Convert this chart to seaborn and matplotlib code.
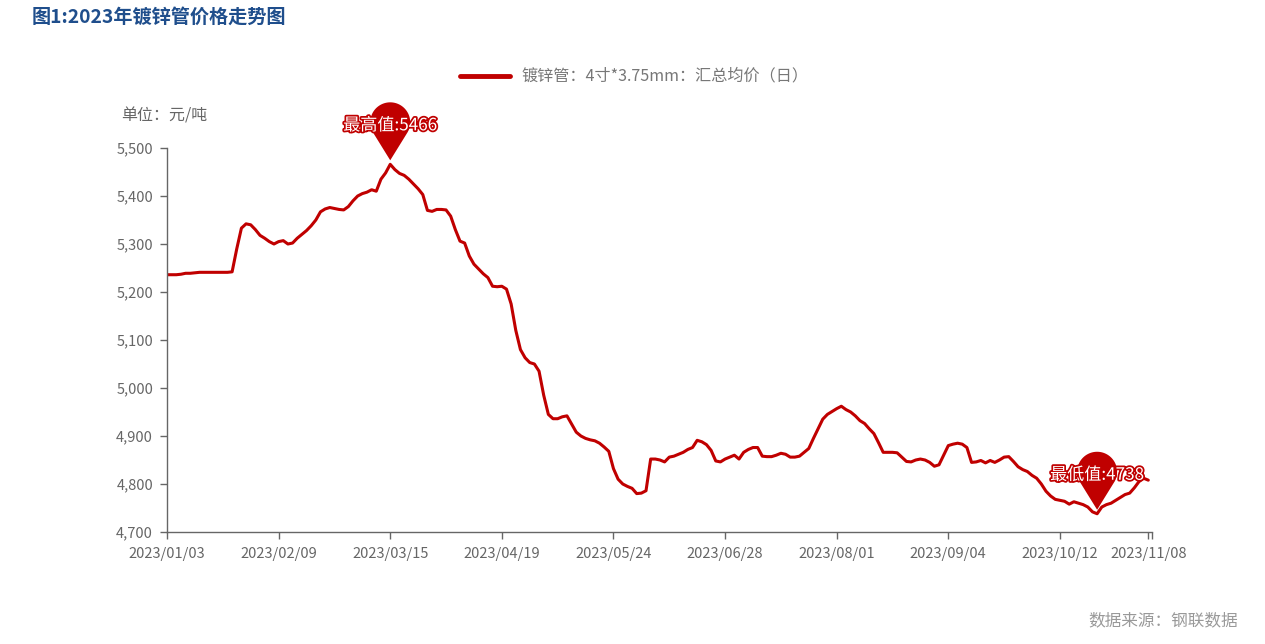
import numpy as np
import pandas as pd
import matplotlib
matplotlib.use("Agg")
import matplotlib.pyplot as plt
import seaborn as sns
from matplotlib.path import Path
from matplotlib.patches import PathPatch
import matplotlib.transforms as mtransforms
import matplotlib.patheffects as pe

# ---------------- data ----------------
holidays = ["2023-01-02", "2023-01-23", "2023-01-24", "2023-01-25", "2023-01-26",
            "2023-01-27", "2023-04-05", "2023-05-01", "2023-05-02", "2023-05-03",
            "2023-06-22", "2023-06-23", "2023-09-29", "2023-10-02", "2023-10-03",
            "2023-10-04", "2023-10-05", "2023-10-06"]
makeup_days = ["2023-01-28", "2023-01-29", "2023-04-23", "2023-05-06",
               "2023-06-25", "2023-10-07", "2023-10-08"]
dates = pd.bdate_range("2023-01-03", "2023-11-08", freq="C", holidays=holidays)
dates = dates.union(pd.to_datetime(makeup_days)).sort_values()
date_labels = [d.strftime("%Y/%m/%d") for d in dates]

prices = [
    5236, 5236, 5236, 5237, 5239, 5239, 5240, 5241, 5241, 5241,
    5241, 5241, 5241, 5241, 5242, 5290, 5333, 5342, 5340, 5330,
    5318, 5312, 5305, 5300, 5305, 5307, 5300, 5302, 5312, 5320,
    5328, 5338, 5350, 5367, 5373, 5376, 5374, 5372, 5371, 5378,
    5390, 5400, 5405, 5408, 5413, 5410, 5435, 5448, 5466, 5455,
    5447, 5443, 5435, 5425, 5415, 5403, 5370, 5368, 5372, 5372,
    5371, 5358, 5330, 5306, 5302, 5275, 5258, 5248, 5238, 5230,
    5212, 5211, 5212, 5206, 5175, 5120, 5080, 5063, 5053, 5050,
    5035, 4985, 4945, 4936, 4936, 4940, 4942, 4925, 4908, 4900,
    4895, 4892, 4890, 4885, 4877, 4868, 4832, 4810, 4800, 4795,
    4791, 4780, 4781, 4786, 4852, 4852, 4850, 4846, 4856, 4858,
    4862, 4866, 4872, 4876, 4891, 4888, 4882, 4870, 4848, 4846,
    4852, 4856, 4860, 4852, 4866, 4872, 4876, 4876, 4858, 4857,
    4857, 4860, 4864, 4862, 4856, 4856, 4858, 4866, 4874, 4895,
    4915, 4935, 4945, 4951, 4957, 4962, 4955, 4950, 4942, 4932,
    4926, 4915, 4905, 4886, 4866, 4866, 4866, 4865, 4856, 4847,
    4846, 4850, 4852, 4850, 4845, 4837, 4840, 4860, 4880, 4883,
    4885, 4883, 4876, 4845, 4846, 4849, 4844, 4849, 4845, 4850,
    4856, 4857, 4847, 4836, 4830, 4826, 4818, 4812, 4800, 4785,
    4775, 4768, 4766, 4764, 4758, 4763, 4760, 4757, 4752, 4742,
    4738, 4752, 4757, 4760, 4766, 4772, 4778, 4781, 4792, 4805,
    4812, 4808,
]
n = min(len(prices), len(date_labels))
prices = prices[:n]
date_labels = date_labels[:n]

series_name = "镀锌管：4寸*3.75mm：汇总均价（日）"
title = "图1:2023年镀锌管价格走势图"
unit_label = "单位：元/吨"
source_label = "数据来源：钢联数据"
y_ticks = [4700, 4800, 4900, 5000, 5100, 5200, 5300, 5400, 5500]
tick_step = 24

df = pd.DataFrame({"idx": np.arange(n), "date": date_labels, "price": prices})

# ---------------- style ----------------
sns.set_theme(style="white")
plt.rcParams["font.family"] = ["Noto Sans CJK SC", "DejaVu Sans"]
RED = "#C00000"
GRAY = "#666666"

W, H = 1265, 644
fig = plt.figure(figsize=(W / 100, H / 100), dpi=100)
ax = fig.add_axes([167 / W, 1 - 532 / H, 985 / W, 384 / H])

sns.lineplot(data=df, x="idx", y="price", ax=ax, color=RED, linewidth=2.2,
             legend=False, solid_joinstyle="round", solid_capstyle="round")

x_end = n - 1 + 0.8
ax.set_xlim(0, x_end)
ax.set_ylim(4700, 5500)
ax.set_xlabel("")
ax.set_ylabel("")

xt = list(range(0, n, tick_step))
if xt[-1] != n - 1:
    xt.append(n - 1)
ax.set_xticks(xt)
ax.set_xticklabels([date_labels[i] for i in xt])
ax.set_xticks([x_end], minor=True)
ax.set_yticks(y_ticks)
ax.set_yticklabels([f"{v:,}" for v in y_ticks])

for s in ["top", "right"]:
    ax.spines[s].set_visible(False)
for s in ["left", "bottom"]:
    ax.spines[s].set_color(GRAY)
    ax.spines[s].set_linewidth(1.0)
ax.tick_params(axis="both", which="both", direction="out", length=5,
               width=1.0, color=GRAY, labelcolor=GRAY, labelsize=10.5,
               left=True, bottom=True)
ax.tick_params(axis="x", pad=6)
ax.tick_params(axis="y", pad=5)
ax.grid(False)

# ---------------- pin markers ----------------
def pin_path(r=20.0, cy=42.0, tip=4.0):
    d = cy - tip
    th = np.degrees(np.arccos(r / d))
    a = np.radians(np.linspace(-90 + th, 270 - th, 60))
    pts = [(r * np.cos(t), cy + r * np.sin(t)) for t in a]
    pts.append((0.0, tip))
    pts.append(pts[0])
    codes = [Path.MOVETO] + [Path.LINETO] * (len(pts) - 2) + [Path.CLOSEPOLY]
    return Path(pts, codes)

def add_pin(i, v, label):
    trans = mtransforms.Affine2D() + mtransforms.ScaledTranslation(i, v, ax.transData)
    patch = PathPatch(pin_path(), facecolor=RED, edgecolor="none",
                      transform=trans, zorder=5, clip_on=False)
    ax.add_patch(patch)
    ax.annotate(label, xy=(i, v), xytext=(0, 39 * 0.72), textcoords="offset points",
                ha="center", va="center", fontsize=12.3, color="white", zorder=6,
                path_effects=[pe.withStroke(linewidth=2.5, foreground=RED)],
                annotation_clip=False)

imax = int(np.argmax(prices))
imin = int(np.argmin(prices))
add_pin(imax, prices[imax], f"最高值:{prices[imax]}")
add_pin(imin, prices[imin], f"最低值:{prices[imin]}")

# ---------------- texts ----------------
fig.text(32 / W, 1 - 17 / H, title, ha="left", va="center", fontsize=13.8,
         fontweight="bold", color="#1F4E8C")

# legend (manual, top centre)
fig.add_artist(plt.Line2D([460 / W, 510 / W], [1 - 76 / H, 1 - 76 / H],
                          color=RED, linewidth=3.5, solid_capstyle="round",
                          transform=fig.transFigure))
fig.text(521 / W, 1 - 76 / H, series_name, ha="left", va="center",
         fontsize=11.6, color="#777777")

fig.text(121 / W, 1 - 116 / H, unit_label, ha="left", va="center",
         fontsize=11.5, color=GRAY)
fig.text(1238 / W, 1 - 621 / H, source_label, ha="right", va="center",
         fontsize=12.0, color="#999999")

fig.savefig("out.png", dpi=100, facecolor="white")
